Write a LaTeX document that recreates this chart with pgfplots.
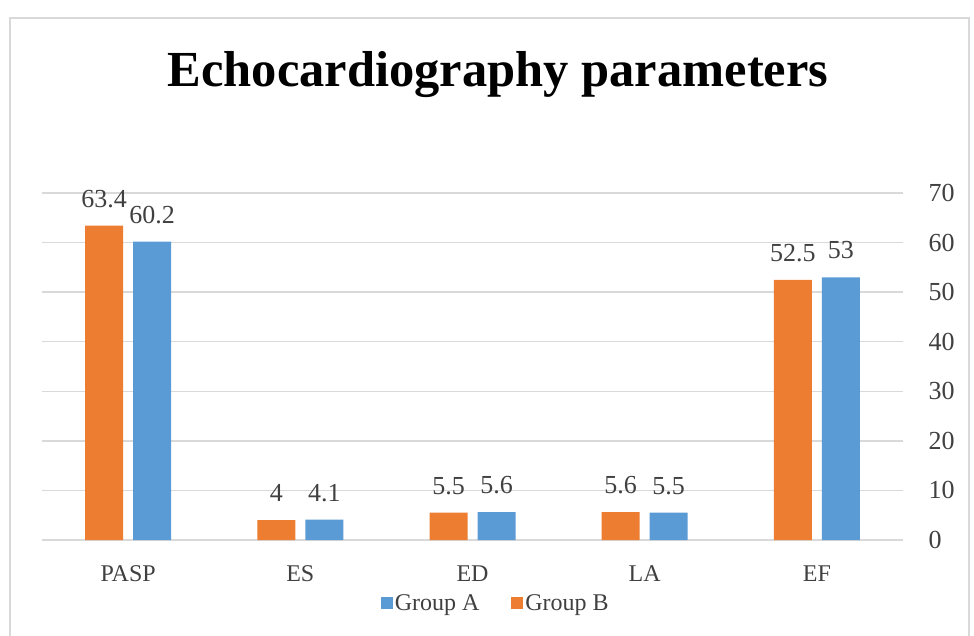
\documentclass[border=0pt]{standalone}
\usepackage{fontspec}
\setmainfont{Liberation Serif}
\usepackage{pgfplots}
\pgfplotsset{compat=1.18}

\definecolor{grpB}{HTML}{ED7D31}
\definecolor{grpA}{HTML}{5B9BD5}
\definecolor{txt}{HTML}{404040}
\definecolor{gridc}{HTML}{D9D9D9}

\begin{document}
\begin{tikzpicture}
\useasboundingbox (0pt,0pt) rectangle (974pt,635pt);
% chart frame
\draw[gridc, line width=1.5pt] (10pt,-2pt) -- (10pt,617pt) -- (969pt,617pt) -- (969pt,-2pt);
% title
\node[anchor=base, font=\bfseries\fontsize{50.5}{60}\selectfont] at (498pt,548pt) {Echocardiography parameters};

\begin{axis}[
  at={(42pt,95pt)}, anchor=south west,
  scale only axis, width=861pt, height=347pt,
  xmin=-0.5, xmax=4.5, ymin=0, ymax=70,
  ytick={0,10,...,70},
  yticklabel pos=right,
  xtick={0,1,2,3,4},
  xticklabels={PASP,ES,ED,LA,EF},
  axis line style={draw=none},
  major tick length=0pt,
  ymajorgrids,
  grid style={gridc, line width=1.3pt},
  /pgf/number format/assume math mode=true,
  tick label style={text=txt},
  yticklabel style={font=\fontsize{26}{30}\selectfont, xshift=22pt},
  xticklabel style={font=\fontsize{24}{28}\selectfont, yshift=-22pt},
  bar width=38pt,
  nodes near coords,
  nodes near coords style={font=\fontsize{26}{30}\selectfont, text=txt, anchor=south, inner sep=0pt, yshift=18pt},
  legend image code/.code={\fill[#1] (0pt,-6pt) rectangle (12pt,6pt);},
  legend style={at={(0.527,-0.182)}, anchor=center, draw=none, fill=none,
    legend columns=2, font=\fontsize{24}{28}\selectfont, text=txt,
    nodes={inner sep=2pt},
    /tikz/every even column/.append style={column sep=30pt}},
]
% Group B (orange), left bar in each pair
\addplot[ybar, bar shift=-24pt, fill=grpB, draw=none, forget plot,
  every node near coord/.append style={xshift=-24pt}]
  coordinates {(0,63.4) (1,4) (2,5.5) (3,5.6) (4,52.5)};
% Group A (blue), right bar in each pair
\addplot[ybar, bar shift=24pt, fill=grpA, draw=none, forget plot,
  every node near coord/.append style={xshift=24pt}]
  coordinates {(0,60.2) (1,4.1) (2,5.6) (3,5.5) (4,53)};

\addlegendimage{fill=grpA, draw=none}
\addlegendentry{Group A}
\addlegendimage{fill=grpB, draw=none}
\addlegendentry{Group B}
\end{axis}
\end{tikzpicture}
\end{document}
